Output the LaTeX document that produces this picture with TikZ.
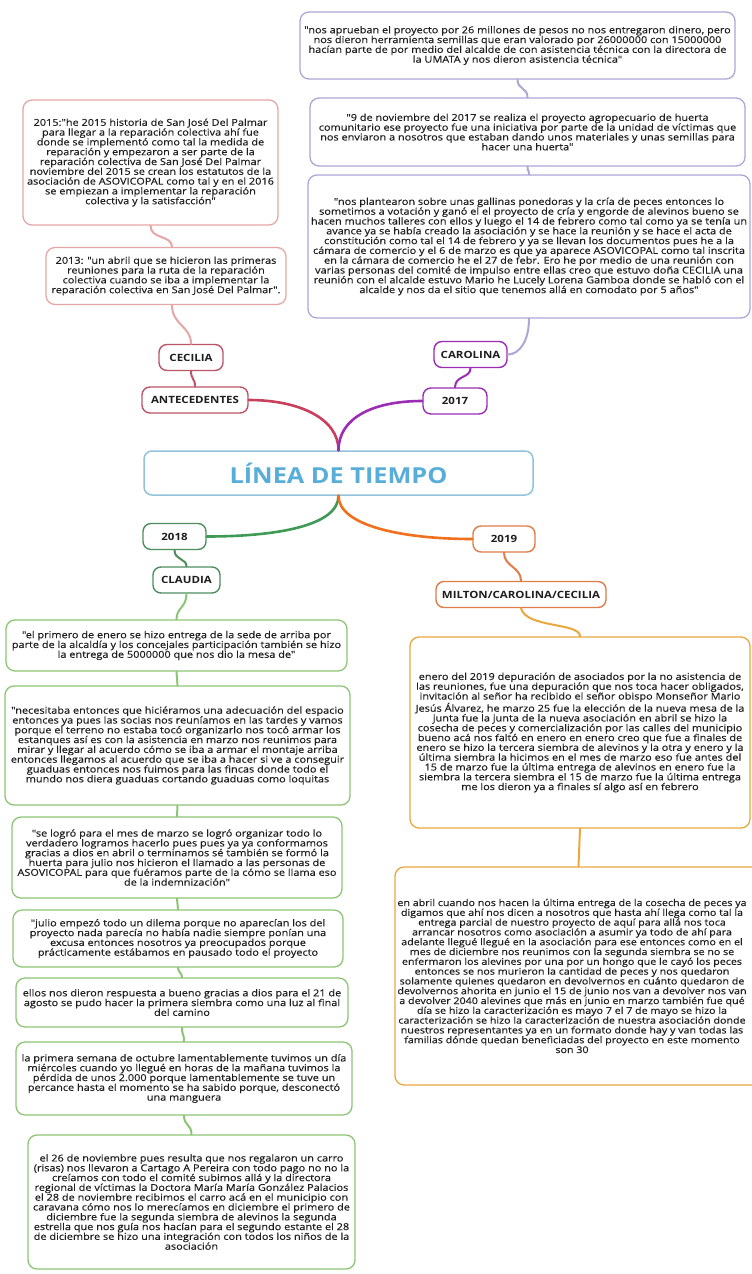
\documentclass[tikz,border=0pt]{standalone}
\usepackage{fontspec}
\setmainfont{Open Sans}[FakeStretch=1.15]
\newfontfamily\notafont{Open Sans}[FakeStretch=1.15, FakeBold=0.3]
\definecolor{texto}{HTML}{1E1E1E}
\definecolor{azulborde}{HTML}{92C3DA}
\definecolor{azultexto}{HTML}{58AED8}
\definecolor{rojo}{HTML}{C8405E}
\definecolor{rojoborde}{HTML}{BE5468}
\definecolor{rosa}{HTML}{E6A6A6}
\definecolor{morado}{HTML}{9A2DB4}
\definecolor{lila}{HTML}{AEA6D6}
\definecolor{verde}{HTML}{3F9A55}
\definecolor{verdeborde}{HTML}{4E8E5E}
\definecolor{verdeclaro}{HTML}{8CC674}
\definecolor{naranja}{HTML}{F0701E}
\definecolor{naranjaborde}{HTML}{E07C48}
\definecolor{ambar}{HTML}{E8A83E}
\tikzset{
  raiz/.style={draw=azulborde, line width=1.5pt, rounded corners=8pt, fill=white,
    minimum width=389pt, minimum height=44pt, text=azultexto,
    font=\bfseries\fontsize{22}{24}\selectfont},
  etiqueta/.style={draw=#1, line width=1.4pt, rounded corners=8pt, fill=white,
    minimum height=26pt, inner xsep=4pt, text=texto,
    font=\bfseries\fontsize{10}{11}\selectfont},
  nota/.style={draw=#1, line width=1.3pt, rounded corners=9pt, fill=white,
    align=center, inner sep=0pt, text=texto,
    font=\notafont\fontsize{9.5}{9.8}\selectfont},
  rama/.style={draw=#1, line width=2.6pt, line cap=round},
  enlace/.style={draw=#1, line width=2pt, line cap=round}
}
\begin{document}
\begin{tikzpicture}[x=1pt,y=-1pt]
\useasboundingbox[fill=white] (0,0) rectangle (752,1274);

\node[raiz] (raiz) at (338.5,473) {LÍNEA DE TIEMPO};

\node[etiqueta=rojoborde, minimum width=106pt] (antecedentes) at (195,400) {ANTECEDENTES};
\node[etiqueta=rojoborde, minimum width=64pt] (cecilia) at (191,357.5) {CECILIA};
\node[nota=rosa, minimum width=240pt, minimum height=57pt] (a2013) at (166,276) {2013: "un abril que se hicieron las primeras\\
reuniones para la ruta de la reparación\\
colectiva cuando se iba a implementar la\\
reparación colectiva en San José Del Palmar".};
\node[nota=rosa, minimum width=255pt, minimum height=125pt] (a2015) at (150.5,162.5) {2015:"he 2015 historia de San José Del Palmar\\
para llegar a la reparación colectiva ahí fue\\
donde se implementó como tal la medida de\\
reparación y empezaron a ser parte de la\\
reparación colectiva de San José Del Palmar\\
noviembre del 2015 se crean los estatutos de la\\
asociación de ASOVICOPAL como tal y en el 2016\\
se empiezan a implementar la reparación\\
colectiva y la satisfacción"};

\node[etiqueta=morado, minimum width=64pt] (anio2017) at (455,401) {2017};
\node[etiqueta=morado, minimum width=73pt] (carolina) at (470.5,354.5) {CAROLINA};
\node[nota=lila, minimum width=442pt, minimum height=143pt] (n3) at (529,246.5) {"nos plantearon sobre unas gallinas ponedoras y la cría de peces entonces lo\\
sometimos a votación y ganó el el proyecto de cría y engorde de alevinos bueno se\\
hacen muchos talleres con ellos y luego el 14 de febrero como tal como ya se tenía un\\
avance ya se había creado la asociación y se hace la reunión y se hace el acta de\\
constitución como tal el 14 de febrero y ya se llevan los documentos pues he a la\\
cámara de comercio y el 6 de marzo es que ya aparece ASOVICOPAL como tal inscrita\\
en la cámara de comercio he el 27 de febr. Ero he por medio de una reunión con\\
varias personas del comité de impulso entre ellas creo que estuvo doña CECILIA una\\
reunión con el alcalde estuvo Mario he Lucely Lorena Gamboa donde se habló con el\\
alcalde y nos da el sitio que tenemos allá en comodato por 5 años"};
\node[nota=lila, minimum width=435pt, minimum height=68pt] (n2) at (527.5,132) {"9 de noviembre del 2017 se realiza el proyecto agropecuario de huerta\\
comunitario ese proyecto fue una iniciativa por parte de la unidad de víctimas que\\
nos enviaron a nosotros que estaban dando unos materiales y unas semillas para\\
hacer una huerta"};
\node[nota=lila, minimum width=435pt, minimum height=67pt] (n1) at (517.5,45.5) {"nos aprueban el proyecto por 26 millones de pesos no nos entregaron dinero, pero\\
nos dieron herramienta semillas que eran valorado por 26000000 con 15000000\\
hacían parte de por medio del alcalde de con asistencia técnica con la directora de\\
la UMATA y nos dieron asistencia técnica"};

\node[etiqueta=verdeborde, minimum width=63pt] (anio2018) at (174.5,536.5) {2018};
\node[etiqueta=verdeborde, minimum width=67pt] (claudia) at (186.5,580) {CLAUDIA};
\node[nota=verdeclaro, minimum width=341pt, minimum height=51pt] (c1) at (176.5,645.5) {"el primero de enero se hizo entrega de la sede de arriba por\\
parte de la alcaldía y los concejales participación también se hizo\\
la entrega de 5000000 que nos dio la mesa de"};
\node[nota=verdeclaro, minimum width=345pt, minimum height=119pt] (c2) at (177.5,745.5) {"necesitaba entonces que hiciéramos una adecuación del espacio\\
entonces ya pues las socias nos reuníamos en las tardes y vamos\\
porque el terreno no estaba tocó organizarlo nos tocó armar los\\
estanques así es con la asistencia en marzo nos reunimos para\\
mirar y llegar al acuerdo cómo se iba a armar el montaje arriba\\
entonces llegamos al acuerdo que se iba a hacer si ve a conseguir\\
guaduas entonces nos fuimos para las fincas donde todo el\\
mundo nos diera guaduas cortando guaduas como loquitas};
\node[nota=verdeclaro, minimum width=330pt, minimum height=81pt] (c3) at (177,857.5) {"se logró para el mes de marzo se logró organizar todo lo\\
verdadero logramos hacerlo pues pues ya ya conformamos\\
gracias a dios en abril o terminamos sé también se formó la\\
huerta para julio nos hicieron el llamado a las personas de\\
ASOVICOPAL para que fuéramos parte de la cómo se llama eso\\
de la indemnización"};
\node[nota=verdeclaro, minimum width=330pt, minimum height=57pt] (c4) at (178,938.5) {"julio empezó todo un dilema porque no aparecían los del\\
proyecto nada parecía no había nadie siempre ponían una\\
excusa entonces nosotros ya preocupados porque\\
prácticamente estábamos en pausado todo el proyecto};
\node[nota=verdeclaro, minimum width=332pt, minimum height=49pt] (c5) at (182,1002.5) {ellos nos dieron respuesta a bueno gracias a dios para el 21 de\\
agosto se pudo hacer la primera siembra como una luz al final\\
del camino};
\node[nota=verdeclaro, minimum width=336pt, minimum height=73pt] (c6) at (184,1078.5) {la primera semana de octubre lamentablemente tuvimos un día\\
miércoles cuando yo llegué en horas de la mañana tuvimos la\\
pérdida de unos 2.000 porque lamentablemente se tuve un\\
percance hasta el momento se ha sabido porque, desconectó\\
una manguera};
\node[nota=verdeclaro, minimum width=327pt, minimum height=134pt] (c7) at (191.5,1202) {el 26 de noviembre pues resulta que nos regalaron un carro\\
(risas) nos llevaron a Cartago A Pereira con todo pago no no la\\
creíamos con todo el comité subimos allá y la directora\\
regional de víctimas la Doctora María María González Palacios\\
el 28 de noviembre recibimos el carro acá en el municipio con\\
caravana cómo nos lo merecíamos en diciembre el primero de\\
diciembre fue la segunda siembra de alevinos la segunda\\
estrella que nos guía nos hacían para el segundo estante el 28\\
de diciembre se hizo una integración con todos los niños de la\\
asociación};

\node[etiqueta=naranjaborde, minimum width=62pt] (anio2019) at (504,539) {2019};
\node[etiqueta=naranjaborde, minimum width=170pt] (milton) at (521,594.5) {MILTON/CAROLINA/CECILIA};
\node[nota=ambar, minimum width=340pt, minimum height=191pt] (m1) at (580,732.5) {enero del 2019 depuración de asociados por la no asistencia de\\
las reuniones, fue una depuración que nos toca hacer obligados,\\
invitación al señor ha recibido el señor obispo Monseñor Mario\\
Jesús Álvarez, he marzo 25 fue la elección de la nueva mesa de la\\
junta fue la junta de la nueva asociación en abril se hizo la\\
cosecha de peces y comercialización por las calles del municipio\\
bueno acá nos faltó en enero en enero creo que fue a finales de\\
enero se hizo la tercera siembra de alevinos y la otra y enero y la\\
última siembra la hicimos en el mes de marzo eso fue antes del\\
15 de marzo fue la última entrega de alevinos en enero fue la\\
siembra la tercera siembra el 15 de marzo fue la última entrega\\
me los dieron ya a finales sí algo así en febrero};
\node[nota=ambar, minimum width=367pt, minimum height=218pt] (m2) at (578.5,976) {};
\node[nota=none, fill=none, font=\notafont\fontsize{9.3}{9.8}\selectfont] (m2texto) at ([xshift=-6.5pt]m2.center) {en abril cuando nos hacen la última entrega de la cosecha de peces ya\\
digamos que ahí nos dicen a nosotros que hasta ahí llega como tal la\\
entrega parcial de nuestro proyecto de aquí para allá nos toca\\
arrancar nosotros como asociación a asumir ya todo de ahí para\\
adelante llegué llegué en la asociación para ese entonces como en el\\
mes de diciembre nos reunimos con la segunda siembra se no se\\
enfermaron los alevines por una por un hongo que le cayó los peces\\
entonces se nos murieron la cantidad de peces y nos quedaron\\
solamente quienes quedaron en devolvernos en cuánto quedaron de\\
devolvernos ahorita en junio el 15 de junio nos van a devolver nos van\\
a devolver 2040 alevines que más en junio en marzo también fue qué\\
día se hizo la caracterización es mayo 7 el 7 de mayo se hizo la\\
caracterización se hizo la caracterización de nuestra asociación donde\\
nuestros representantes ya en un formato donde hay y van todas las\\
familias dónde quedan beneficiadas del proyecto en este momento\\
son 30};

\draw[rama=rojo] (antecedentes.east) .. controls +(50,0) and +(0,-32) .. (raiz.north);
\draw[rama=morado] (anio2017.west) .. controls +(-50,0) and +(0,-32) .. (raiz.north);
\draw[rama=verde] (raiz.south) .. controls +(0,30) and +(70,0) .. (anio2018.east);
\draw[rama=naranja] (raiz.south) .. controls +(0,30) and +(-70,0) .. (anio2019.west);

\draw[enlace=rojoborde] (antecedentes.north) .. controls +(0,-8) and +(0,8) .. (cecilia.south);
\draw[enlace=rosa] (cecilia.north) .. controls +(0,-18) and +(0,20) .. ([xshift=6pt]a2013.south);
\draw[enlace=rosa] (a2015.south) .. controls +(0,14) and +(0,-12) .. ([xshift=6pt]a2013.north);
\draw[enlace=morado] (anio2017.north) .. controls +(0,-12) and +(0,10) .. (carolina.south);
\draw[enlace=lila] (carolina.east) .. controls +(12,0) and +(0,22) .. (n3.south);
\draw[enlace=lila] (n3.north) .. controls +(0,-5) and +(0,5) .. (n2.south);
\draw[enlace=lila] (n2.north) .. controls +(0,-10) and +(0,10) .. (n1.south);

\draw[enlace=verdeborde] (anio2018.south) .. controls +(0,10) and +(0,-8) .. (claudia.north);
\draw[enlace=verdeclaro] (claudia.south) .. controls +(0,14) and +(0,-12) .. (c1.north);
\draw[enlace=verdeclaro] (c1.south) -- (c2.north);
\draw[enlace=verdeclaro] (c2.south) -- (c3.north);
\draw[enlace=verdeclaro] (c3.south) -- (c4.north);
\draw[enlace=verdeclaro] (c4.south) .. controls +(0,5) and +(0,-5) .. (c5.north);
\draw[enlace=verdeclaro] (c5.south) .. controls +(0,8) and +(0,-8) .. (c6.north);
\draw[enlace=verdeclaro] (c6.south) .. controls +(0,10) and +(0,-10) .. (c7.north);

\draw[enlace=naranjaborde] (anio2019.south) .. controls +(0,14) and +(0,-14) .. (milton.north);
\draw[enlace=ambar] (milton.south) .. controls +(5,20) and +(0,-14) .. (m1.north);
\draw[enlace=ambar] (m1.south) -- (m2.north);
\end{tikzpicture}
\end{document}
